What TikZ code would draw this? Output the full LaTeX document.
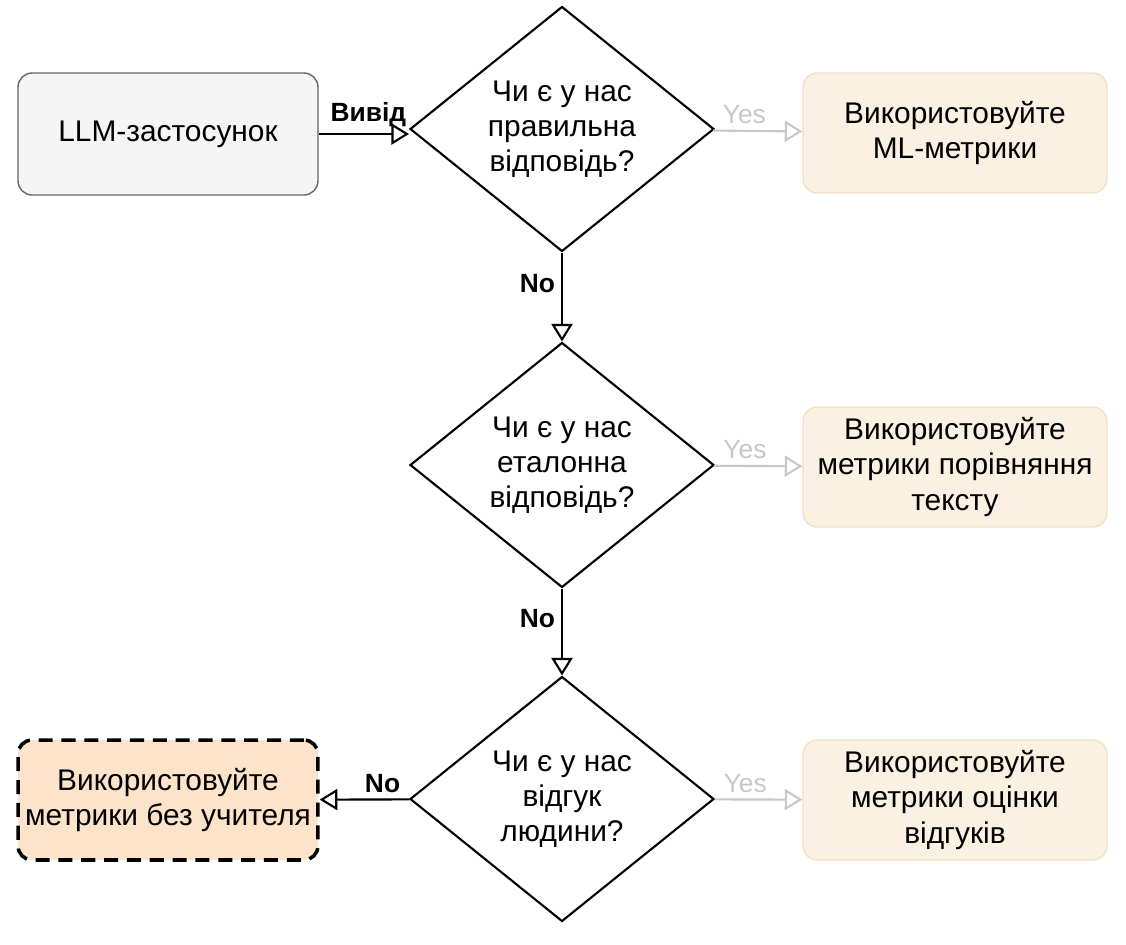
\documentclass[tikz,border=0pt]{standalone}
\usepackage{fontspec}
\setmainfont{Liberation Sans}
\usetikzlibrary{shapes.geometric,arrows.meta}
\definecolor{boxgray}{HTML}{F5F5F5}
\definecolor{boxline}{HTML}{666666}
\definecolor{metfill}{HTML}{FBF1E3}
\definecolor{metline}{HTML}{F2E2C4}
\definecolor{unsfill}{HTML}{FDE3CA}
\definecolor{yesgray}{HTML}{C8C8C8}
\begin{document}
\begin{tikzpicture}[x=0.02cm,y=-0.02cm,
  every node/.style={font=\fontsize{17}{20}\selectfont, align=center},
  app/.style={draw=boxline, thick, fill=boxgray, rounded corners=8pt, minimum width=6cm, minimum height=2.44cm},
  metric/.style={draw=metline, thick, fill=metfill, rounded corners=8pt, minimum width=6.08cm, minimum height=2.4cm},
  unsup/.style={draw=black, line width=2pt, dash pattern=on 8pt off 5pt, fill=unsfill, rounded corners=8pt, minimum width=6cm, minimum height=2.4cm},
  decision/.style={draw, line width=1.2pt, diamond, inner sep=0pt, minimum width=6.08cm, minimum height=4.9cm},
  flow/.style={line width=1.2pt, -{Triangle[open, length=10pt, width=12pt]}},
  yes/.style={line width=1.2pt, draw=yesgray, -{Triangle[open, length=10pt, width=12pt]}},
  lbl/.style={font=\fontsize{15}{18}\selectfont\bfseries},
  ylbl/.style={font=\fontsize{15}{18}\selectfont, text=yesgray}]
\useasboundingbox (0,0) rectangle (1126,944);
% left column
\node[app] (app) at (168,134) {LLM-застосунок};
\node[unsup] (unsup) at (168,800) {Використовуйте\\метрики без учителя};
% decisions
\node[decision] (q1) at (562,129) {Чи є у нас\\правильна\\відповідь?};
\node[decision] (q2) at (562,465) {Чи є у нас\\еталонна\\відповідь?};
\node[decision] (q3) at (562,799) {Чи є у нас\\відгук\\людини?};
% metrics
\node[metric] (ml) at (955,133) {Використовуйте\\ML-метрики};
\node[metric] (txt) at (955,467) {Використовуйте\\метрики порівняння\\тексту};
\node[metric] (fb) at (955,800) {Використовуйте\\метрики оцінки\\відгуків};
% connectors
\draw[flow] (app) -- node[lbl, above, pos=0.55] {Вивід} (app -| q1.west);
\draw[flow] (q1) -- node[lbl, left, pos=0.35] {No} (q2);
\draw[flow] (q2) -- node[lbl, left, pos=0.35] {No} (q3);
\draw[flow] (q3) -- node[lbl, above, pos=0.3] {No} (unsup);
\draw[yes] (q1) -- node[ylbl, above, pos=0.35] {Yes} (ml);
\draw[yes] (q2) -- node[ylbl, above, pos=0.35] {Yes} (txt);
\draw[yes] (q3) -- node[ylbl, above, pos=0.35] {Yes} (fb);
\end{tikzpicture}
\end{document}
